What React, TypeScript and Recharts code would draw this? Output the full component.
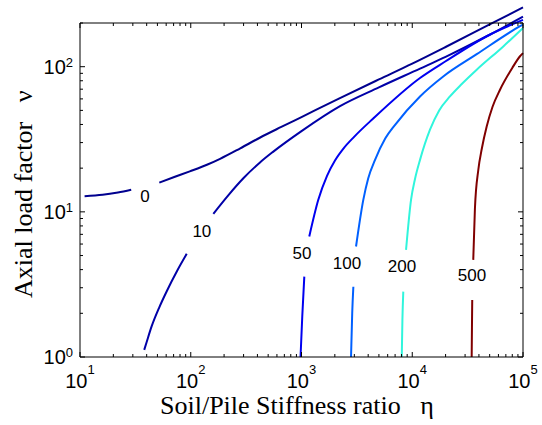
import { LineChart, Line, XAxis, YAxis, ReferenceDot } from 'recharts'

// contour levels and their colours
const levels = ['0', '10', '50', '100', '200', '500']
const colors = ['#00008f', '#0000a8', '#0000f0', '#0060ff', '#30f5dc', '#800000']

// each contour: eta (x) and nu (y); null = gap where the level label sits
const curve0Eta = [11, 16, 22, 29, 38, 52, 70, 98, 140, 184, 280, 420, 650, 1000, 2200, 5000, 10000, 20000, 50000, 100000]
const curve0Nu = [12.8, 13.1, 13.6, 14.2, null, 15.9, 17.3, 19, 21.1, 23.2, 27.4, 32.4, 38.3, 45, 60.5, 81.7, 105, 136.7, 195.5, 256]

const curve10Eta = [38, 40, 44.4, 52, 60.7, 75, 92, 125, 160, 220, 300, 422, 553, 1000, 2228, 5000, 11750, 20000, 50000, 100000]
const curve10Nu = [1.12, 1.27, 1.63, 2.2, 2.84, 3.9, 5.14, null, 9.7, 13.1, 17.1, 21.9, 25.9, 36, 53.5, 72, 97, 117, 166, 221]

const curve50Eta = [980, 1016, 1060, 1110, 1175, 1418, 1700, 2006, 2400, 3000, 4446, 11750, 20000, 50000, 100000]
const curve50Nu = [1.0, 1.9, 3.58, null, 6.76, 12.1, 17.7, 22.6, 27.4, 33, 44, 83.6, 109, 166, 210]

const curve100Eta = [2800, 2870, 2939, 3020, 3107, 3614, 4000, 4613, 5700, 7000, 11750, 19050, 38200, 94000, 100000]
const curve100Nu = [1.0, 2.0, 3.05, null, 5.77, 12.1, 17, 22.8, 32, 39.8, 62.4, 85.7, 122, 190, 195]

const curve200Eta = [8040, 8150, 8300, 8540, 8790, 9750, 10600, 11750, 14460, 17500, 21900, 28000, 38200, 66400, 100000]
const curve200Nu = [1.0, 1.8, 2.82, null, 5.47, 12.1, 16.9, 22.8, 36.8, 50, 62.4, 76, 95.3, 138, 185]

const curve500Eta = [34400, 34600, 34800, 35200, 35550, 36800, 39500, 42500, 47000, 53000, 62000, 80000, 94000, 100000]
const curve500Nu = [1.0, 1.6, 2.47, null, 4.67, 10.5, 19.5, 27.3, 38.7, 52.8, 69.4, 98, 118, 124]

// where the level labels go
const labelEta = [38.6, 126, 1010, 2577, 8070, 34600]
const labelNu = [12.9, 7.39, 5.21, 4.48, 4.24, 3.68]

const etaTicks = [
  10, 20, 30, 40, 50, 60, 70, 80, 90,
  100, 200, 300, 400, 500, 600, 700, 800, 900,
  1000, 2000, 3000, 4000, 5000, 6000, 7000, 8000, 9000,
  10000, 20000, 30000, 40000, 50000, 60000, 70000, 80000, 90000,
  100000,
]
const nuTicks = [1, 2, 3, 4, 5, 6, 7, 8, 9, 10, 20, 30, 40, 50, 60, 70, 80, 90, 100, 200]

const etaCols = [curve0Eta, curve10Eta, curve50Eta, curve100Eta, curve200Eta, curve500Eta]
const nuCols = [curve0Nu, curve10Nu, curve50Nu, curve100Nu, curve200Nu, curve500Nu]
const curves = etaCols.map((etas, i) => etas.map((eta, j) => ({ eta, nu: nuCols[i][j] })))

const SANS = '"Liberation Sans", Arial, sans-serif'
const SERIF = '"Liberation Serif", "Times New Roman", serif'

function decade(v: number) {
  const lg = Math.log10(v)
  const e = Math.round(lg)
  return { e, major: Math.abs(lg - e) < 1e-6 }
}

function BottomTick({ x, y, payload }: any) {
  const { e, major } = decade(payload.value)
  return (
    <g>
      <line x1={x} x2={x} y1={y} y2={y - (major ? 5 : 3)} stroke="#000" />
      {major && (
        <text x={x} y={y + 31} textAnchor="middle" fontFamily={SANS} fontSize={20} fill="#000">
          <tspan>10</tspan>
          <tspan dy={-14} fontSize={13}>{e}</tspan>
        </text>
      )}
    </g>
  )
}

function TopTick({ x, y, payload }: any) {
  const { major } = decade(payload.value)
  return <line x1={x} x2={x} y1={y} y2={y + (major ? 5 : 3)} stroke="#000" />
}

function LeftTick({ x, y, payload }: any) {
  const { e, major } = decade(payload.value)
  return (
    <g>
      <line x1={x} x2={x + (major ? 5 : 3)} y1={y} y2={y} stroke="#000" />
      {major && (
        <text x={x - 7} y={y + 7} textAnchor="end" fontFamily={SANS} fontSize={20} fill="#000">
          <tspan>10</tspan>
          <tspan dy={-7} fontSize={13}>{e}</tspan>
        </text>
      )}
    </g>
  )
}

function RightTick({ x, y, payload }: any) {
  const { major } = decade(payload.value)
  return <line x1={x} x2={x - (major ? 5 : 3)} y1={y} y2={y} stroke="#000" />
}

export default function App() {
  return (
    <div style={{ position: 'absolute', left: 0, top: 0, width: 542, height: 425, background: '#fff' }}>
      <style>{'.recharts-line-curve{clip-path:none !important}'}</style>
      <LineChart width={542} height={425} margin={{ top: 0, right: 0, bottom: 0, left: 0 }}>
        <XAxis
          xAxisId="b"
          dataKey="eta"
          type="number"
          scale="log"
          domain={[10, 100000]}
          allowDataOverflow
          ticks={etaTicks}
          interval={0}
          height={68}
          tickSize={0}
          tickMargin={0}
          tickLine={false}
          axisLine={{ stroke: '#000' }}
          tick={(p: any) => <BottomTick {...p} />}
        />
        <XAxis
          xAxisId="t"
          orientation="top"
          dataKey="eta"
          type="number"
          scale="log"
          domain={[10, 100000]}
          allowDataOverflow
          ticks={etaTicks}
          interval={0}
          height={23}
          tickSize={0}
          tickMargin={0}
          tickLine={false}
          axisLine={{ stroke: '#000' }}
          tick={(p: any) => <TopTick {...p} />}
        />
        <YAxis
          yAxisId="l"
          type="number"
          scale="log"
          domain={[1, 200]}
          allowDataOverflow
          ticks={nuTicks}
          interval={0}
          width={80}
          tickSize={0}
          tickMargin={0}
          tickLine={false}
          axisLine={{ stroke: '#000' }}
          tick={(p: any) => <LeftTick {...p} />}
        />
        <YAxis
          yAxisId="r"
          orientation="right"
          type="number"
          scale="log"
          domain={[1, 200]}
          allowDataOverflow
          ticks={nuTicks}
          interval={0}
          width={19}
          tickSize={0}
          tickMargin={0}
          tickLine={false}
          axisLine={{ stroke: '#000' }}
          tick={(p: any) => <RightTick {...p} />}
        />
        {curves.map((pts, i) => (
          <Line
            key={levels[i]}
            xAxisId="b"
            yAxisId="l"
            data={pts}
            dataKey="nu"
            type="monotone"
            stroke={colors[i]}
            strokeWidth={2}
            dot={false}
            connectNulls={false}
            isAnimationActive={false}
          />
        ))}
        {levels.map((lv, i) => (
          <ReferenceDot
            key={'lab' + lv}
            xAxisId="b"
            yAxisId="l"
            x={labelEta[i]}
            y={labelNu[i]}
            r={0}
            fill="none"
            stroke="none"
            ifOverflow="visible"
            label={{ value: lv, position: 'center', fontSize: 17, fill: '#000', fontFamily: SANS }}
          />
        ))}
      </LineChart>
      <svg width={542} height={425} style={{ position: 'absolute', left: 0, top: 0, pointerEvents: 'none' }}>
        <text x={160} y={414} fontFamily={SERIF} fontSize={26} fill="#000" style={{ whiteSpace: 'pre' }}>
          {'Soil/Pile Stiffness ratio   η'}
        </text>
        <text
          transform="translate(32,298) rotate(-90)"
          fontFamily={SERIF}
          fontSize={26}
          fill="#000"
          style={{ whiteSpace: 'pre' }}
        >
          {'Axial load factor   ν'}
        </text>
      </svg>
    </div>
  )
}
